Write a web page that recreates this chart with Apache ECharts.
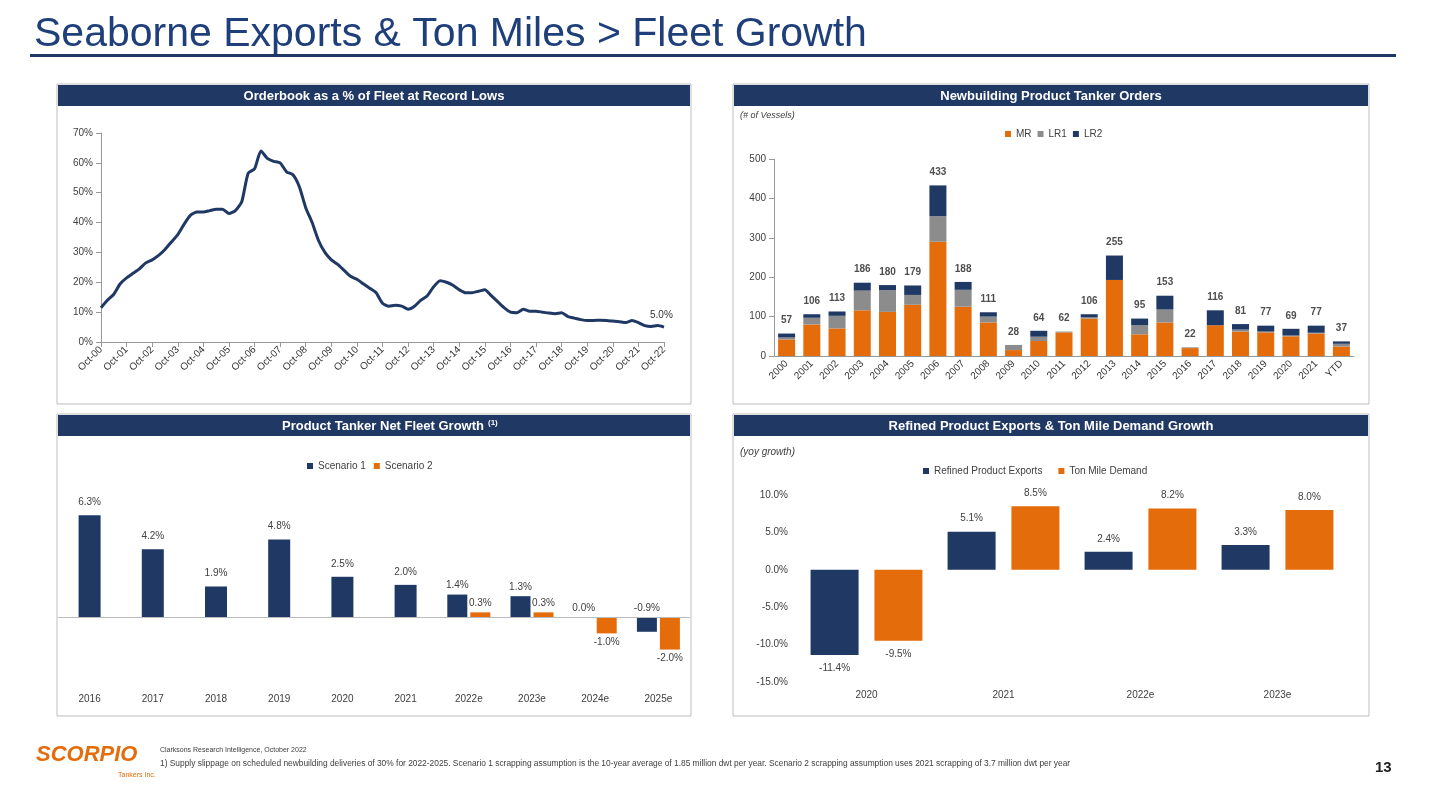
<!DOCTYPE html>
<html><head><meta charset="utf-8">
<script src="https://cdn.jsdelivr.net/npm/echarts@6/dist/echarts.min.js"></script>
<style>html,body{margin:0;padding:0;background:#fff}#c{width:1439px;height:789px}</style>
</head><body><div id="c"></div>
<script>
// Orderbook % of fleet (quarterly from Oct-00 to Oct-22)
const obValues = [11.5,14,16,19.5,21.5,23,24.5,26.5,27.5,29,31,33.5,36,39.5,42.5,43.5,43.5,44,44.5,44.5,43,44,47,56.5,58,64,61.5,60.5,60,57,56,52,45,40,34,30,27.5,26,24,22,21,19.5,18,16.5,13,12,12.3,12,11,12,14,15.5,18.5,20.5,20,19,17.5,16.5,16.5,17,17.5,15.5,13.5,11.5,10,9.8,11,10.3,10.3,10,9.7,9.5,9.8,8.5,8,7.5,7.2,7.2,7.3,7.2,7.0,6.8,6.5,7.2,6.5,5.5,5.2,5.5,5.0];
const qtr = ['Oct','Jan','Apr','Jul'];
const obLabels = obValues.map((v,i)=>{const yr=Math.floor((i+3)/4); return qtr[i%4]+'-'+String(yr).padStart(2,'0');});

// Newbuilding orders
const nbCats = ['2000','2001','2002','2003','2004','2005','2006','2007','2008','2009','2010','2011','2012','2013','2014','2015','2016','2017','2018','2019','2020','2021','YTD'];
const nbMR  = [42,80,70,116,112,130,290,125,85,15,38,60,95,193,55,85,20,78,62,60,50,57,24];
const nbLR1 = [5,17,32,50,55,25,65,43,15,13,11,2,3,0,23,33,2,0,5,2,2,2,7];
const nbLR2 = [10,9,11,20,13,24,78,20,11,0,15,0,8,62,17,35,0,38,14,15,17,18,6];
const nbTotal = [57,106,113,186,180,179,433,188,111,28,64,62,106,255,95,153,22,116,81,77,69,77,37];

// Fleet growth
const fgCats = ['2016','2017','2018','2019','2020','2021','2022e','2023e','2024e','2025e'];
const fgS1Hist = [6.3,4.2,1.9,4.8,2.5,2.0,null,null,null,null];
const fgS1Fcst = [null,null,null,null,null,null,1.4,1.3,0.0,-0.9];
const fgS2Fcst = [null,null,null,null,null,null,0.3,0.3,-1.0,-2.0];

// Exports & ton miles
const exCats = ['2020','2021','2022e','2023e'];
const exRefined = [-11.4,5.1,2.4,3.3];
const exTonMile = [-9.5,8.5,8.2,8.0];

const NAVY='#1f3864', ORANGE='#e46c0a', GRAY='#8c8c8c', TXT='#404040';
const F='Liberation Sans, Arial, sans-serif';
const chart = echarts.init(document.getElementById('c'));

function panel(x,y,w,h,title){
  return [
    {type:'rect',shape:{x:x,y:y,width:w,height:h},style:{fill:'#fff',stroke:'#bfbfbf',lineWidth:1},z:-10},
    {type:'rect',shape:{x:x+1,y:y+1,width:w-2,height:21},style:{fill:NAVY},z:-9},
    {type:'text',x:x+w/2,y:y+12,style:{text:title,fill:'#fff',font:'bold 13px '+F,align:'center',verticalAlign:'middle'},z:-8}
  ];
}
const pct1 = v => v.toFixed(1)+'%';

const option = {
  animation:false,
  textStyle:{fontFamily:F},
  graphic:[
    {type:'text',x:34,y:14,style:{text:'Seaborne Exports & Ton Miles > Fleet Growth',fill:'#1f3f7a',font:'41px '+F}},
    {type:'rect',shape:{x:30,y:54,width:1366,height:3},style:{fill:NAVY}},
    ...panel(57,84,634,320,'Orderbook as a % of Fleet at Record Lows'),
    ...panel(733,84,636,320,'Newbuilding Product Tanker Orders'),
    ...panel(57,414,634,302,''),
    {type:'text',x:484,y:426,style:{text:'Product Tanker Net Fleet Growth',fill:'#fff',font:'bold 13px '+F,align:'right',verticalAlign:'middle'}},
    {type:'text',x:488,y:419,style:{text:'(1)',fill:'#fff',font:'bold 8px '+F}},
    ...panel(733,414,636,302,'Refined Product Exports & Ton Mile Demand Growth'),
    {type:'text',x:740,y:111,style:{text:'(# of Vessels)',fill:TXT,font:'italic 9px '+F}},
    {type:'text',x:740,y:447,style:{text:'(yoy growth)',fill:TXT,font:'italic 10px '+F}},
    {type:'text',x:36,y:744,style:{text:'SCORPIO',fill:ORANGE,font:'bold italic 22px '+F}},
    {type:'text',x:118,y:772,style:{text:'Tankers Inc.',fill:ORANGE,font:'7px '+F}},
    {type:'text',x:160,y:747,style:{text:'Clarksons Research Intelligence, October 2022',fill:TXT,font:'7px '+F}},
    {type:'text',x:160,y:760,style:{text:'1) Supply slippage on scheduled newbuilding deliveries of 30% for 2022-2025. Scenario 1 scrapping assumption is the 10-year average of 1.85 million dwt per year. Scenario 2 scrapping assumption uses 2021 scrapping of 3.7 million dwt per year',fill:TXT,font:'8.4px '+F}},
    {type:'text',x:1375,y:760,style:{text:'13',fill:'#222',font:'bold 15px '+F}}
  ],
  legend:[
    {top:124,left:1000,data:['MR','LR1','LR2'],itemWidth:6,itemHeight:6,itemGap:6,textStyle:{fontSize:10,color:TXT},icon:'rect'},
    {top:456,left:302,data:['Scenario 1','Scenario 2'],itemWidth:6,itemHeight:6,itemGap:8,icon:'rect',textStyle:{fontSize:10,color:TXT}},
    {top:461,left:918,data:['Refined Product Exports','Ton Mile Demand'],itemWidth:6,itemHeight:6,itemGap:16,icon:'rect',textStyle:{fontSize:10,color:TXT}}
  ],
  grid:[
    {left:101,top:133,width:563,height:209},
    {left:774,top:159,width:580,height:197},
    {left:58,top:504,width:632,height:186},
    {left:798,top:495,width:548,height:187}
  ],
  xAxis:[
    {gridIndex:0,type:'category',data:obLabels,boundaryGap:false,
     axisLine:{lineStyle:{color:'#999'}},axisTick:{show:true,interval:3,lineStyle:{color:'#999'}},
     axisLabel:{interval:3,rotate:45,fontSize:10,color:'#333',margin:6}},
    {gridIndex:1,type:'category',data:nbCats,axisLine:{lineStyle:{color:'#999'}},axisTick:{show:false},
     axisLabel:{interval:0,rotate:45,fontSize:10,color:'#333',margin:6}},
    {gridIndex:2,type:'category',data:fgCats,axisLine:{show:false},axisTick:{show:false},
     axisLabel:{fontSize:10,color:TXT,margin:4}},
    {gridIndex:2,type:'category',data:fgCats,show:false},
    {gridIndex:3,type:'category',data:exCats,axisLine:{show:false},axisTick:{show:false},
     axisLabel:{fontSize:10,color:TXT,margin:8}}
  ],
  yAxis:[
    {gridIndex:0,type:'value',min:0,max:70,interval:10,axisLine:{show:true,lineStyle:{color:'#999'}},axisTick:{show:true,lineStyle:{color:'#999'}},
     splitLine:{show:false},axisLabel:{formatter:'{value}%',fontSize:10,color:TXT}},
    {gridIndex:1,type:'value',min:0,max:500,interval:100,axisLine:{show:true,lineStyle:{color:'#999'}},axisTick:{show:true,lineStyle:{color:'#999'}},
     splitLine:{show:false},axisLabel:{fontSize:10,color:TXT}},
    {gridIndex:2,type:'value',min:-4.5,max:7,show:false,splitLine:{show:false}},
    {gridIndex:3,type:'value',min:-15,max:10,interval:5,axisLine:{show:false},axisTick:{show:false},splitLine:{show:false},
     axisLabel:{formatter:v=>v.toFixed(1)+'%',fontSize:10,color:TXT,margin:10}}
  ],
  series:[
    {type:'line',xAxisIndex:0,yAxisIndex:0,data:obValues,symbol:'none',smooth:0.2,lineStyle:{color:NAVY,width:3},
     endLabel:{show:true,formatter:'5.0%',fontSize:10,color:'#333',offset:[-22,-12]}},
    {name:'MR',type:'bar',xAxisIndex:1,yAxisIndex:1,stack:'nb',data:nbMR,barWidth:17,itemStyle:{color:ORANGE}},
    {name:'LR1',type:'bar',xAxisIndex:1,yAxisIndex:1,stack:'nb',data:nbLR1,itemStyle:{color:GRAY}},
    {name:'LR2',type:'bar',xAxisIndex:1,yAxisIndex:1,stack:'nb',data:nbLR2,itemStyle:{color:NAVY}},
    {type:'scatter',xAxisIndex:1,yAxisIndex:1,data:nbTotal,symbolSize:0,
     label:{show:true,position:'top',distance:8,fontSize:10,fontWeight:'bold',color:'#222',formatter:p=>p.value}},
    {name:'Scenario 1',type:'bar',xAxisIndex:2,yAxisIndex:2,data:fgS1Hist,barWidth:22,itemStyle:{color:NAVY},
     label:{show:true,position:'top',fontSize:10,color:TXT,distance:8,formatter:p=>pct1(p.value)},
     markLine:{silent:true,symbol:'none',label:{show:false},lineStyle:{color:'#bbb',type:'solid',width:1},data:[{yAxis:0}]}},
    {name:'Scenario 1',type:'bar',xAxisIndex:3,yAxisIndex:2,data:fgS1Fcst,barWidth:20,barGap:'15%',itemStyle:{color:NAVY},
     label:{show:true,fontSize:10,color:TXT,distance:4,position:'top',formatter:p=>pct1(p.value)}},
    {name:'Scenario 2',type:'bar',xAxisIndex:3,yAxisIndex:2,data:fgS2Fcst.map(v=>v==null?null:{value:v,label:{position:v<0?'bottom':'top'}}),barWidth:20,itemStyle:{color:ORANGE},
     label:{show:true,fontSize:10,color:TXT,distance:4,formatter:p=>pct1(p.value)}},
    {name:'Refined Product Exports',type:'bar',xAxisIndex:4,yAxisIndex:3,data:exRefined.map(v=>({value:v,label:{position:v<0?'bottom':'top'}})),barWidth:48,barGap:'33%',itemStyle:{color:NAVY},
     label:{show:true,fontSize:10,color:TXT,distance:8,formatter:p=>pct1(p.value)}},
    {name:'Ton Mile Demand',type:'bar',xAxisIndex:4,yAxisIndex:3,data:exTonMile.map(v=>({value:v,label:{position:v<0?'bottom':'top'}})),barWidth:48,itemStyle:{color:ORANGE},
     label:{show:true,fontSize:10,color:TXT,distance:8,formatter:p=>pct1(p.value)}}
  ]
};
chart.setOption(option);
</script></body></html>
